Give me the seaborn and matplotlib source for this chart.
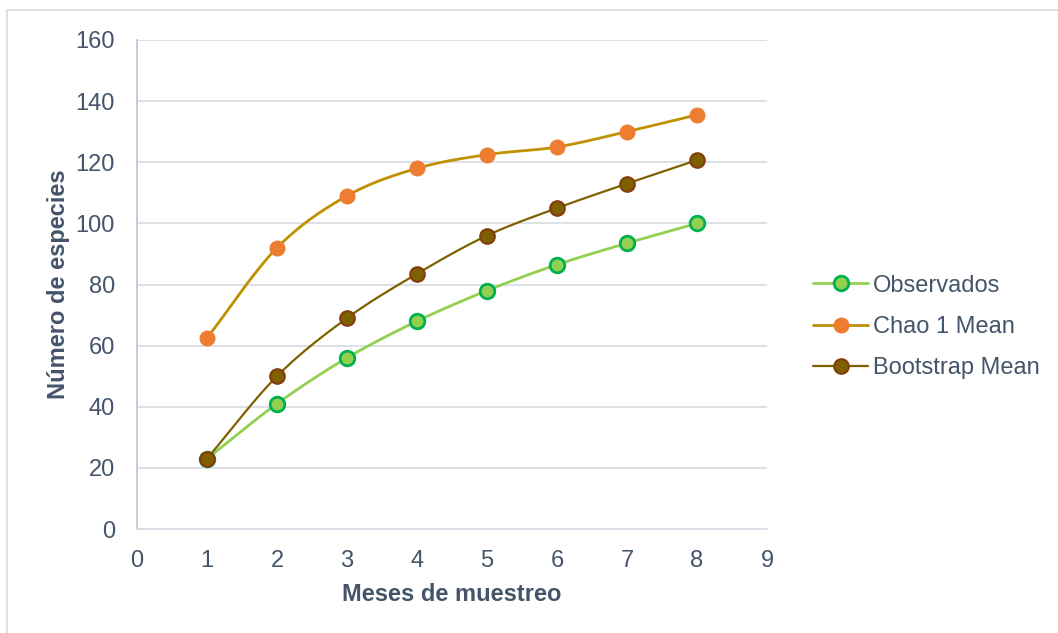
import numpy as np
import pandas as pd
import matplotlib
matplotlib.use("Agg")
import matplotlib.pyplot as plt
from matplotlib.lines import Line2D
import seaborn as sns

# Accumulated species richness per sampling month
meses = [1, 2, 3, 4, 5, 6, 7, 8]
observados = [23, 41, 56, 68, 78, 86.5, 93.5, 100]
chao1_mean = [62.5, 92, 109, 118, 122.5, 125, 130, 135.5]
bootstrap_mean = [23, 50, 69, 83.5, 96, 105, 113, 120.7]

series_names = ["Observados", "Chao 1 Mean", "Bootstrap Mean"]
x_ticks = [0, 1, 2, 3, 4, 5, 6, 7, 8, 9]
y_ticks = [0, 20, 40, 60, 80, 100, 120, 140, 160]

sns.set_theme(style="white")
plt.rcParams["font.family"] = ["Liberation Sans", "DejaVu Sans"]
TEXT = "#44546A"
FS = 17

styles = {
    "Observados": dict(line="#92D050", face="#92D050", edge="#00B050", lw=2.0, mew=2.0),
    "Chao 1 Mean": dict(line="#BF9000", face="#ED7D31", edge="#ED7D31", lw=2.0, mew=1.0),
    "Bootstrap Mean": dict(line="#7F6000", face="#7F6000", edge="#843C0C", lw=1.6, mew=1.5),
}


def smooth_curve(x, y, steps=30):
    """Catmull-Rom spline through the points (smoothed line)."""
    x = np.asarray(x, float)
    y = np.asarray(y, float)
    px = np.concatenate([[2 * x[0] - x[1]], x, [2 * x[-1] - x[-2]]])
    py = np.concatenate([[2 * y[0] - y[1]], y, [2 * y[-1] - y[-2]]])
    xs, ys = [], []
    t = np.linspace(0, 1, steps, endpoint=False)
    for i in range(1, len(px) - 2):
        for arr, out in ((px, xs), (py, ys)):
            p0, p1, p2, p3 = arr[i - 1], arr[i], arr[i + 1], arr[i + 2]
            out.extend(0.5 * ((2 * p1) + (-p0 + p2) * t
                              + (2 * p0 - 5 * p1 + 4 * p2 - p3) * t ** 2
                              + (-p0 + 3 * p1 - 3 * p2 + p3) * t ** 3))
    xs.append(x[-1])
    ys.append(y[-1])
    return np.array(xs), np.array(ys)


df = pd.DataFrame({"mes": meses * 3,
                   "valor": observados + chao1_mean + bootstrap_mean,
                   "serie": np.repeat(series_names, len(meses))})

fig = plt.figure(figsize=(10.58, 6.33), dpi=100)
ax = fig.add_axes([137 / 1058, 1 - 529 / 633, (767 - 137) / 1058, (529 - 40) / 633])

for name in series_names:
    st = styles[name]
    sub = df[df["serie"] == name]
    sx, sy = smooth_curve(sub["mes"], sub["valor"])
    sns.lineplot(x=sx, y=sy, ax=ax, color=st["line"], lw=st["lw"], sort=False,
                 estimator=None, zorder=2)
    ax.plot(sub["mes"], sub["valor"], ls="none", marker="o", ms=10.5,
            mfc=st["face"], mec=st["edge"], mew=st["mew"], zorder=3)

ax.set_xlim(0, 9)
ax.set_ylim(0, 160)
ax.set_xticks(x_ticks)
ax.set_yticks(y_ticks)
ax.tick_params(axis="both", labelsize=FS, colors=TEXT, length=0)
ax.tick_params(axis="x", pad=15)
ax.tick_params(axis="y", pad=16)
ax.yaxis.grid(True, color="#D9DEE6", lw=1.3)
ax.xaxis.grid(False)
for side in ("top", "right"):
    ax.spines[side].set_visible(False)
ax.spines["left"].set_color("#BCC8DA")
ax.spines["left"].set_linewidth(1.3)
ax.spines["bottom"].set_color("#D9DEE6")
ax.spines["bottom"].set_linewidth(1.3)

ax.set_xlabel("Meses de muestreo", fontsize=FS, fontweight="bold", color=TEXT, labelpad=8)
ax.set_ylabel("Número de especies", fontsize=FS, fontweight="bold", color=TEXT, labelpad=4)

handles = [Line2D([0], [0], color=styles[n]["line"], lw=styles[n]["lw"], marker="o",
                  ms=10.5, mfc=styles[n]["face"], mec=styles[n]["edge"],
                  mew=styles[n]["mew"]) for n in series_names]
leg = fig.legend(handles, series_names, loc="center left",
                 bbox_to_anchor=(813 / 1058, 1 - 327 / 633), frameon=False,
                 fontsize=FS, handlelength=2.35, handletextpad=0.2,
                 labelspacing=0.82, borderaxespad=0, borderpad=0)
for t in leg.get_texts():
    t.set_color(TEXT)

# chart-area border
fig.add_artist(Line2D([7 / 1058, 7 / 1058], [0, 1 - 10 / 633], color="#D9DEE6", lw=1.3,
                      transform=fig.transFigure))
fig.add_artist(Line2D([7 / 1058, 1], [1 - 10 / 633, 1 - 10 / 633], color="#D9DEE6", lw=1.3,
                      transform=fig.transFigure))

fig.savefig("out.png", dpi=100)
